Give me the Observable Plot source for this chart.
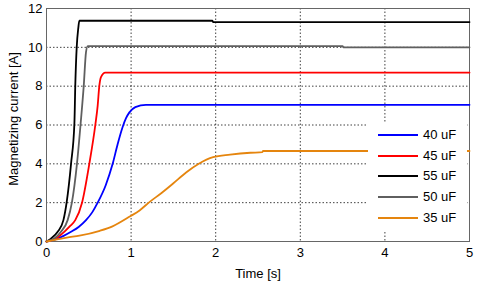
<!DOCTYPE html>
<html>
<head>
<meta charset="utf-8">
<script src="https://cdn.jsdelivr.net/npm/d3@7"></script>
<script src="https://cdn.jsdelivr.net/npm/@observablehq/plot@0.6"></script>
<style>
  html, body { margin: 0; padding: 0; background: #fff; }
  #wrap { position: relative; width: 480px; height: 284px; font-family: "Liberation Sans", Arial, sans-serif; }
  #legend { position: absolute; background: #fff; }
  .row { position: absolute; left: 0; height: 0; }
  .sw { position: absolute; left: 10px; width: 40px; height: 2px; top: -1px; }
  .lab { position: absolute; left: 55px; top: -8px; font-size: 13px; line-height: 16px; color: #000; white-space: nowrap; }
</style>
</head>
<body>
<div id="wrap"></div>
<script>
// ---- data ----
const xTicks = [0, 1, 2, 3, 4, 5];
const yTicks = [0, 2, 4, 6, 8, 10, 12];

const seriesNames = ["40 uF", "45 uF", "55 uF", "50 uF", "35 uF"];
const seriesColors = ["#0000ff", "#ff0000", "#000000", "#5f5f5f", "#e5850e"];

const t40 = [0, 0.13, 0.29, 0.38, 0.467, 0.54, 0.605, 0.7, 0.782, 0.84, 0.9, 0.94, 0.98, 1.05, 1.176, 5];
const i40 = [0, 0.15, 0.5, 0.75, 1.1, 1.5, 2.0, 2.9, 4.0, 5.0, 5.9, 6.35, 6.65, 6.92, 7.04, 7.04];

const t45 = [0, 0.112, 0.21, 0.28, 0.34, 0.42, 0.506, 0.577, 0.605, 0.624, 0.644, 0.695, 5];
const i45 = [0, 0.15, 0.5, 0.8, 1.1, 2.0, 4.0, 6.0, 7.0, 8.0, 8.47, 8.7, 8.7];

const t55 = [0, 0.053, 0.132, 0.2, 0.239, 0.29, 0.33, 0.34, 0.357, 0.376, 0.388, 1.96, 1.97, 5];
const i55 = [0, 0.15, 0.5, 1.1, 2.04, 4.0, 6.1, 8.0, 10.0, 11.0, 11.37, 11.37, 11.3, 11.3];

const t50 = [0, 0.092, 0.171, 0.25, 0.3, 0.36, 0.404, 0.44, 0.467, 0.487, 3.5, 3.51, 5];
const i50 = [0, 0.15, 0.5, 1.1, 2.0, 4.0, 6.1, 8.0, 9.75, 10.06, 10.06, 10.0, 10.0];

const t35 = [0, 0.1, 0.24, 0.39, 0.63, 0.78, 0.99, 1.1, 1.22, 1.36, 1.5, 1.65, 1.8, 1.97, 2.17, 2.41, 2.55, 2.56, 5];
const i35 = [0, 0.08, 0.2, 0.3, 0.55, 0.78, 1.3, 1.6, 2.04, 2.5, 3.0, 3.55, 4.0, 4.34, 4.47, 4.57, 4.6, 4.66, 4.66];

const seriesT = [t40, t45, t55, t50, t35];
const seriesI = [i40, i45, i55, i50, i35];

const xLabel = "Time [s]";
const yLabel = "Magnetizing current [A]";

// ---- build table ----
const rows = [];
seriesNames.forEach((name, k) => {
  seriesT[k].forEach((t, j) => rows.push({ series: name, t, i: seriesI[k][j] }));
});

const font = "Liberation Sans, Arial, sans-serif";

const chart = Plot.plot({
  width: 480,
  height: 284,
  marginLeft: 46,
  marginRight: 11,
  marginTop: 8,
  marginBottom: 43,
  style: { fontFamily: font, fontSize: "13px", color: "#000", background: "#fff" },
  x: { domain: [0, 5] },
  y: { domain: [0, 12] },
  color: { domain: seriesNames, range: seriesColors },
  marks: [
    Plot.gridX(xTicks, { stroke: "#000", strokeOpacity: 0.75, strokeDasharray: "1.5,2" }),
    Plot.gridY(yTicks, { stroke: "#000", strokeOpacity: 0.75, strokeDasharray: "1.5,2" }),
    Plot.frame({ stroke: "#666", strokeWidth: 1 }),
    Plot.axisX(xTicks, { tickSize: 0, tickPadding: 6, fontSize: 13, label: xLabel, labelAnchor: "center", labelOffset: 36, labelArrow: "none" }),
    Plot.axisY(yTicks, { tickSize: 0, tickPadding: 4, fontSize: 13, label: null }),
    Plot.text([yLabel], { frameAnchor: "left", text: d => d, rotate: -90, textAnchor: "middle", lineAnchor: "middle", dx: -33, dy: -6, fontSize: 13, fill: "#000" }),
    Plot.line(rows, { x: "t", y: "i", z: "series", stroke: "series", strokeWidth: 1.8, curve: "monotone-x" })
  ]
});

const wrap = document.getElementById("wrap");
wrap.appendChild(chart);

// ---- legend overlay ----
const legend = document.createElement("div");
legend.id = "legend";
legend.style.left = "368px";
legend.style.top = "122px";
legend.style.width = "99px";
legend.style.height = "110px";
seriesNames.forEach((name, k) => {
  const row = document.createElement("div");
  row.className = "row";
  row.style.top = (13 + k * 20.7) + "px";
  const sw = document.createElement("div");
  sw.className = "sw";
  sw.style.background = seriesColors[k];
  const lab = document.createElement("div");
  lab.className = "lab";
  lab.textContent = name;
  row.appendChild(sw);
  row.appendChild(lab);
  legend.appendChild(row);
});
wrap.appendChild(legend);
</script>
</body>
</html>
